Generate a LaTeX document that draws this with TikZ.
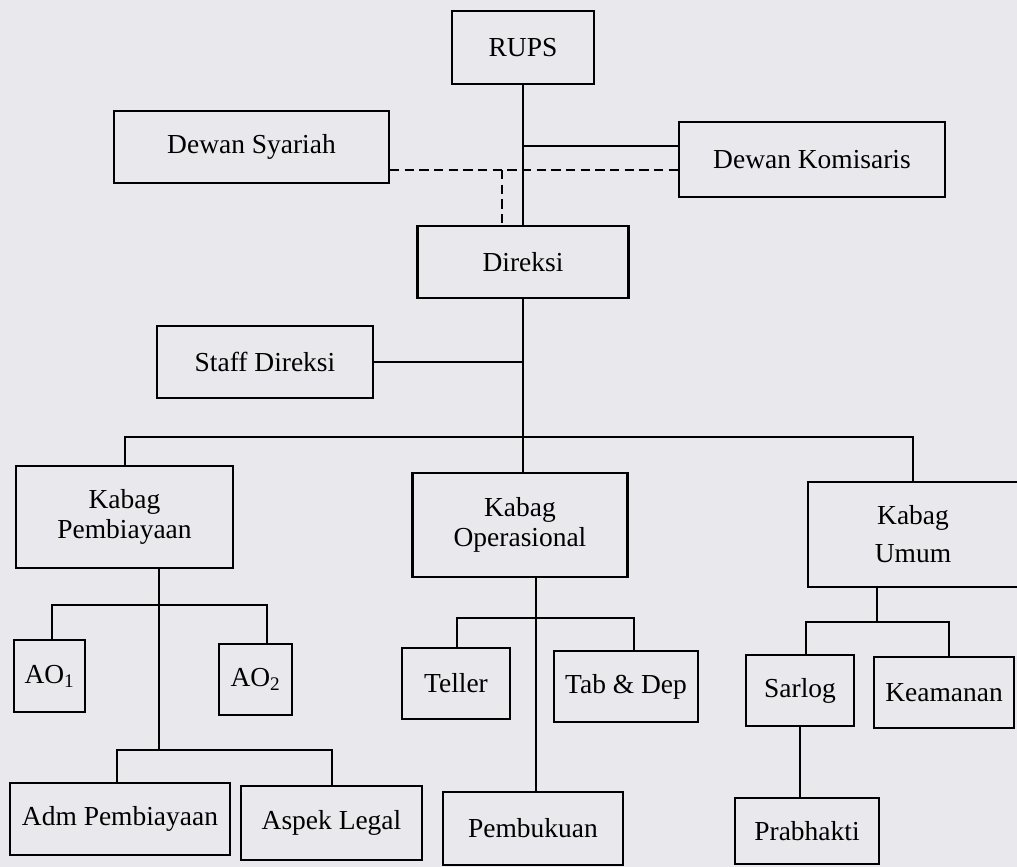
\documentclass[tikz,border=0pt]{standalone}
\usepackage{fontspec}
\setmainfont{Liberation Serif}

\tikzset{every picture/.style={line width=0.75pt}}
\tikzset{orgbox/.style={draw, line width=1.6pt, inner sep=0pt, align=center, font=\fontsize{20.6}{22.5}\selectfont}}
\tikzset{link/.style={line width=1.5pt}}
\tikzset{dashlink/.style={line width=1.5pt, dash pattern=on 7pt off 4pt}}

\begin{document}
\begin{tikzpicture}[x=0.75pt,y=0.75pt,yscale=-1,xscale=1]
%set diagram: 1017 x 867
\path[use as bounding box, fill={rgb, 255:red, 233; green, 233; blue, 237}] (0,0) rectangle (1017,867);

%Boxes: top
\node[orgbox, minimum width=106.5pt, minimum height=54.75pt] (rups) at (523,47.5) {RUPS};
\node[orgbox, minimum width=206.25pt, minimum height=54pt] (syariah) at (251.5,147) {Dewan Syariah};
\node[orgbox, minimum width=199.5pt, minimum height=56.25pt] (komisaris) at (812,159.5) {Dewan Komisaris};
\node[orgbox, minimum width=158.25pt, minimum height=54pt] (direksi) at (523,262) {Direksi};
\node[orgbox, minimum width=162pt, minimum height=54pt] (staff) at (265,362) {Staff Direksi};

%Boxes: Kabag
\node[orgbox, minimum width=162.75pt, minimum height=76.5pt] (kpemb) at (124.5,517) {Kabag\\Pembiayaan};
\node[orgbox, minimum width=161.25pt, minimum height=78pt] (kop) at (520,525) {Kabag\\Operasional};
\node[orgbox, minimum width=157.5pt, minimum height=78.75pt] (kumum) at (913,534.5) {Kabag\\[6pt]Umum};

%Boxes: staff level
\node[orgbox, minimum width=53.25pt, minimum height=54pt] (ao1) at (49.5,676) {AO\textsubscript{1}};
\node[orgbox, minimum width=54.75pt, minimum height=53.25pt] (ao2) at (255.5,679.5) {AO\textsubscript{2}};
\node[orgbox, minimum width=81pt, minimum height=53.25pt] (teller) at (456,683.5) {Teller};
\node[orgbox, minimum width=108pt, minimum height=53.25pt] (tabdep) at (626,686.5) {Tab \& Dep};
\node[orgbox, minimum width=81pt, minimum height=53.25pt] (sarlog) at (800,690.5) {Sarlog};
\node[orgbox, minimum width=105pt, minimum height=53.25pt] (keamanan) at (944,692.5) {Keamanan};

%Boxes: bottom
\node[orgbox, minimum width=165pt, minimum height=54pt] (adm) at (120,819) {Adm Pembiayaan};
\node[orgbox, minimum width=135.75pt, minimum height=55.5pt] (aspek) at (331.5,823) {Aspek Legal};
\node[orgbox, minimum width=135pt, minimum height=54.75pt] (pembukuan) at (533,828.5) {Pembukuan};
\node[orgbox, minimum width=108pt, minimum height=49.5pt] (prabhakti) at (807,831) {Prabhakti};

%Bus points
\coordinate (kom) at (523,146);
\coordinate (dsh) at (502,170);
\coordinate (bus) at (523,437);
\coordinate (kpx) at (159,605);
\coordinate (ao1x) at (52,605);
\coordinate (ao2x) at (267,605);
\coordinate (admx) at (117,750);
\coordinate (aspx) at (332,750);
\coordinate (opx) at (536,618);
\coordinate (tlrx) at (457,618);
\coordinate (tbdx) at (634,618);
\coordinate (umx) at (877,622);
\coordinate (srlx) at (806,622);
\coordinate (kmnx) at (949,622);

%Lines: top
\draw[link] (rups.south) -- (rups.south |- direksi.north);
\draw[link] (kom) -- (kom -| komisaris.west);
\draw[dashlink] (syariah.east |- dsh) -- (komisaris.west |- dsh);
\draw[dashlink] (dsh) -- (dsh |- direksi.north);
\draw[link] (direksi.south) -- (direksi.south |- kop.north);
\draw[link] (staff.east) -- (staff.east -| direksi.south);
\draw[link] (kpemb.north) |- (bus) -| (kumum.north);

%Lines: Pembiayaan
\draw[link] (kpemb.south -| kpx) -- (kpx |- admx);
\draw[link] (ao1x |- ao1.north) -- (ao1x) -- (ao2x) -- (ao2x |- ao2.north);
\draw[link] (admx |- adm.north) -- (admx) -- (aspx) -- (aspx |- aspek.north);

%Lines: Operasional
\draw[link] (kop.south -| opx) -- (opx |- pembukuan.north);
\draw[link] (tlrx |- teller.north) -- (tlrx) -- (tbdx) -- (tbdx |- tabdep.north);

%Lines: Umum
\draw[link] (kumum.south -| umx) -- (umx);
\draw[link] (srlx |- sarlog.north) -- (srlx) -- (kmnx) -- (kmnx |- keamanan.north);
\draw[link] (sarlog.south) -- (sarlog.south |- prabhakti.north);

\end{tikzpicture}
\end{document}
